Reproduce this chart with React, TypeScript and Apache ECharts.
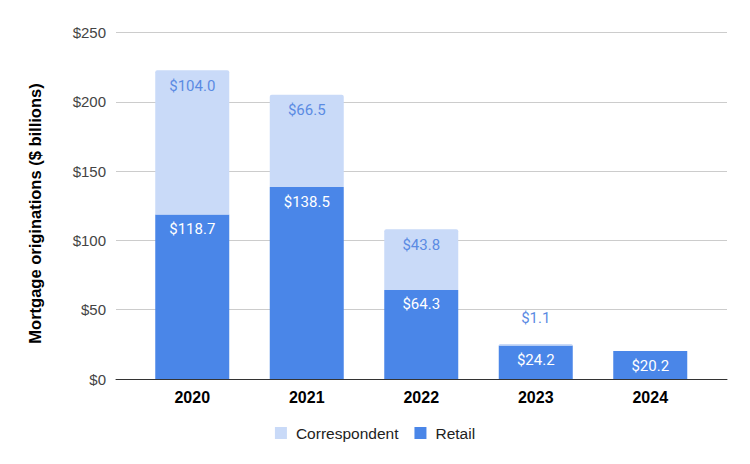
import React, { useEffect, useRef } from "react";
import * as echarts from "echarts";

const years = ["2020", "2021", "2022", "2023", "2024"];
const retail = [118.7, 138.5, 64.3, 24.2, 20.2];
const correspondent: (number | null)[] = [104.0, 66.5, 43.8, 1.1, null];
const yTicks = { min: 0, max: 250, interval: 50 };

export default function App() {
  const ref = useRef<HTMLDivElement>(null);
  useEffect(() => {
    const chart = echarts.init(ref.current!, null, { renderer: "svg" });
    const fmt = (p: any) => "$" + Number(p.value).toFixed(1);
    const corrData = correspondent.map((v) =>
      v !== null && v < 5
        ? { value: v, label: { position: "top", distance: 18 } }
        : v
    );
    chart.setOption({
      animation: false,
      backgroundColor: "#fff",
      grid: [
        { left: 116, right: 23, top: 32.5, bottom: 85 },
        { left: 135, right: 42.5, top: 32.5, bottom: 85 },
      ],
      legend: {
        top: 420,
        left: "center",
        itemWidth: 12,
        itemHeight: 12,
        itemGap: 16,
        icon: "rect",
        textStyle: {
          fontFamily: "Liberation Sans, Arial",
          fontSize: 15.5,
          color: "#222",
          padding: [0, 0, 0, 4],
        },
        data: ["Correspondent", "Retail"],
      },
      graphic: [
        {
          type: "text",
          x: 35,
          y: 213.5,
          rotation: Math.PI / 2,
          style: {
            text: "Mortgage originations ($ billions)",
            fontFamily: "Liberation Sans, Arial",
            fontWeight: "bold",
            fontSize: 16.5,
            fill: "#000",
            textAlign: "center",
            textVerticalAlign: "middle",
          },
        },
      ],
      xAxis: [
        {
          gridIndex: 0,
          type: "value",
          min: 0,
          max: 1,
          axisLabel: { show: false },
          axisTick: { show: false },
          splitLine: { show: false },
          axisLine: { show: true, onZero: false, lineStyle: { color: "#333", width: 1 } },
        },
        {
          gridIndex: 1,
          type: "category",
          data: years,
          axisLine: { show: false },
          axisTick: { show: false },
          axisLabel: {
            margin: 10,
            fontFamily: "Liberation Sans, Arial",
            fontWeight: "bold",
            fontSize: 16,
            color: "#000",
          },
        },
      ],
      yAxis: [
        {
          gridIndex: 0,
          type: "value",
          ...yTicks,
          axisLine: { show: false },
          axisTick: { show: false },
          axisLabel: {
            margin: 10,
            formatter: (v: number) => "$" + v,
            fontFamily: "Liberation Sans, Arial",
            fontSize: 15,
            color: "#444",
          },
          splitLine: { lineStyle: { color: "#ccc", width: 1 } },
        },
        {
          gridIndex: 1,
          type: "value",
          ...yTicks,
          show: false,
          splitLine: { show: false },
        },
      ],
      series: [
        {
          name: "Retail",
          type: "bar",
          stack: "total",
          xAxisIndex: 1,
          yAxisIndex: 1,
          barWidth: 74,
          data: retail,
          itemStyle: { color: "#4a86e8" },
          label: {
            show: true,
            position: "insideTop",
            distance: 7,
            color: "#fff",
            fontFamily: "Roboto",
            fontSize: 15,
            formatter: fmt,
          },
        },
        {
          name: "Correspondent",
          type: "bar",
          stack: "total",
          xAxisIndex: 1,
          yAxisIndex: 1,
          barWidth: 74,
          data: corrData,
          itemStyle: { color: "#c9daf8", borderRadius: [2, 2, 0, 0] },
          label: {
            show: true,
            position: "insideTop",
            distance: 8,
            color: "#5b8be3",
            fontFamily: "Roboto",
            fontSize: 15,
            formatter: fmt,
          },
        },
      ],
    });
    return () => chart.dispose();
  }, []);
  return <div ref={ref} style={{ width: 750, height: 464, position: "absolute", left: 0, top: 0 }} />;
}
